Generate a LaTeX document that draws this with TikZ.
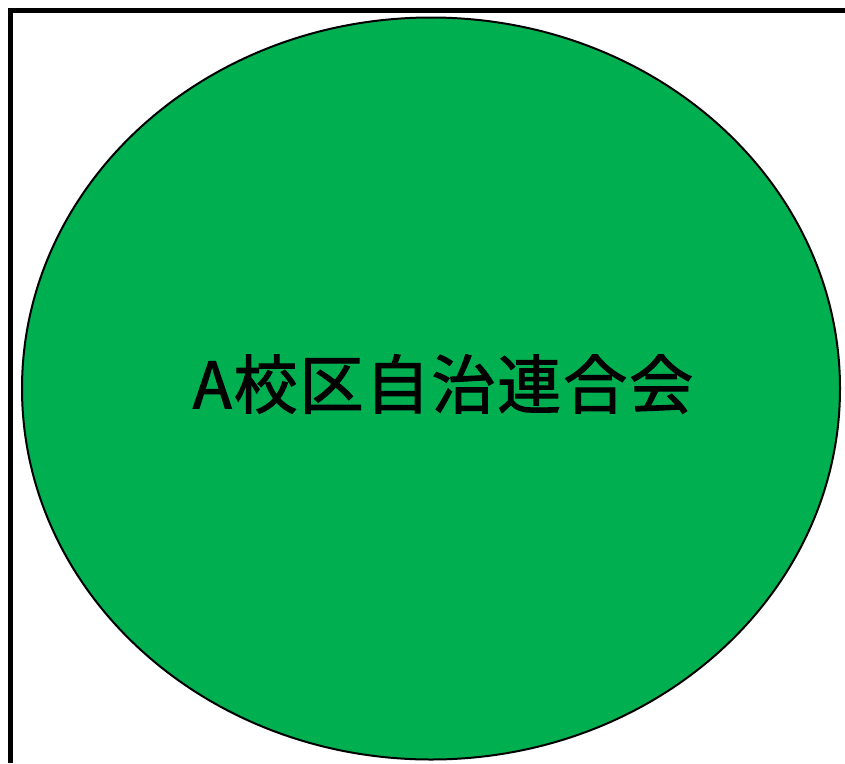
\documentclass[tikz,border=0pt]{standalone}
\usetikzlibrary{shapes.geometric}
\usepackage{fontspec}
\newfontfamily\cjk[LetterSpace=3,FakeBold=1.6]{Noto Sans CJK JP}
\definecolor{ovalgreen}{HTML}{00B050}
\begin{document}
\begin{tikzpicture}[x=1pt,y=-1pt,
  frameline/.style={line width=5pt,line cap=butt,line join=miter},
  ovalstyle/.style={draw=black,line width=2pt,fill=ovalgreen},
  labelstyle/.style={font=\cjk\fontsize{64}{72}\selectfont,inner sep=0pt}]
\useasboundingbox (0,0) rectangle (845,763);
\coordinate (bl) at (10.5,763);
\coordinate (tl) at (10.5,10.5);
\coordinate (tr) at (845,10.5);
\draw[frameline] (bl) -- (tl) -- (tr);
\node[ovalstyle,ellipse,minimum width=818pt,minimum height=742pt,inner sep=0pt] (oval) at (431,388.5) {};
\node[labelstyle] (label) at (443,384) {A校区自治連合会};
\end{tikzpicture}
\end{document}
